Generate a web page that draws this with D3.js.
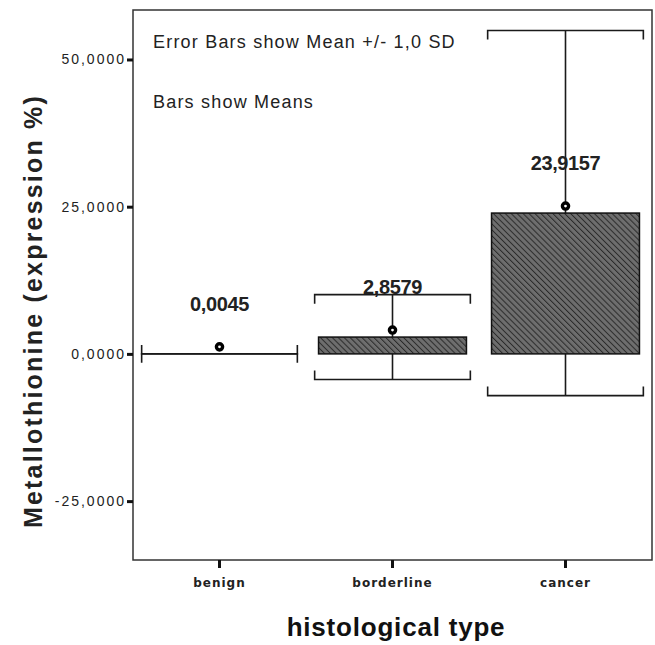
<!DOCTYPE html>
<html>
<head>
<meta charset="utf-8">
<script src="https://cdn.jsdelivr.net/npm/d3@7"></script>
<style>
  html, body { margin: 0; padding: 0; background: #fff; }
  svg { display: block; font-family: Arial, "Liberation Sans", sans-serif; }
</style>
</head>
<body>
<svg id="chart" width="655" height="645"></svg>
<script>
// ---- data ----
const categories = ["benign", "borderline", "cancer"];
const means = [0.0045, 2.8579, 23.9157];
const sds = [0.03, 7.2, 31.0];
const meanLabels = ["0,0045", "2,8579", "23,9157"];
const yTicks = [-25, 0, 25, 50];
const yDomain = [-35.0, 58.4];
const notes = ["Error Bars show Mean +/- 1,0 SD", "Bars show Means"];

// ---- layout ----
const W = 655, H = 645;
const m = { left: 133, right: 3, top: 10, bottom: 85 };
const svg = d3.select("#chart");

const x = d3.scaleBand().domain(categories)
  .range([m.left, W - m.right]).paddingInner(0).paddingOuter(0);
const y = d3.scaleLinear().domain(yDomain).range([H - m.bottom, m.top]);

const loc = d3.formatLocale({ decimal: ",", thousands: ".", grouping: [3], currency: ["", ""], minus: "-" });
const fmt = loc.format(".4f");

// hatch pattern
const defs = svg.append("defs");
const pat = defs.append("pattern").attr("id", "hatch")
  .attr("patternUnits", "userSpaceOnUse").attr("width", 4.2).attr("height", 4.2)
  .attr("patternTransform", "rotate(-45)");
pat.append("rect").attr("width", 4.2).attr("height", 4.2).attr("fill", "#6e6e6e");
pat.append("line").attr("x1", 0).attr("y1", 0).attr("x2", 0).attr("y2", 4.2)
  .attr("stroke", "#2a2a2a").attr("stroke-width", 2);

const barW = x.bandwidth() * 0.855;
const capW = x.bandwidth() * 0.9;
const capTick = 9;

const data = categories.map((c, i) => ({ c, mean: means[i], sd: sds[i], label: meanLabels[i] }));

// error bars
const eb = svg.append("g").attr("stroke", "#1a1a1a").attr("stroke-width", 1.6).attr("fill", "none");
data.forEach(d => {
  const cx = x(d.c) + x.bandwidth() / 2;
  const yHi = y(d.mean + d.sd), yLo = y(d.mean - d.sd);
  eb.append("line").attr("x1", cx).attr("x2", cx).attr("y1", yHi).attr("y2", yLo);
  eb.append("path").attr("d",
    `M${cx - capW / 2},${yHi + capTick}V${yHi}H${cx + capW / 2}V${yHi + capTick}`);
  eb.append("path").attr("d",
    `M${cx - capW / 2},${yLo - capTick}V${yLo}H${cx + capW / 2}V${yLo - capTick}`);
});

// bars
svg.append("g").selectAll("rect").data(data).join("rect")
  .attr("x", d => x(d.c) + (x.bandwidth() - barW) / 2)
  .attr("width", barW)
  .attr("y", d => Math.min(y(d.mean), y(0)))
  .attr("height", d => Math.abs(y(0) - y(d.mean)))
  .attr("fill", "url(#hatch)")
  .attr("stroke", d => Math.abs(y(0) - y(d.mean)) > 1 ? "#111" : "none")
  .attr("stroke-width", 1.5);

// mean markers
svg.append("g").selectAll("circle").data(data).join("circle")
  .attr("cx", d => x(d.c) + x.bandwidth() / 2)
  .attr("cy", d => y(d.mean) - 7)
  .attr("r", 3.1)
  .attr("fill", "#fff").attr("stroke", "#000").attr("stroke-width", 3.4);

// value labels
svg.append("g").selectAll("text").data(data).join("text")
  .attr("x", d => x(d.c) + x.bandwidth() / 2)
  .attr("y", d => y(d.mean) - 43)
  .attr("text-anchor", "middle")
  .attr("font-size", 20).attr("font-weight", "bold").attr("fill", "#222")
  .attr("letter-spacing", "-0.4")
  .text(d => d.label);

// frame
svg.append("rect").attr("x", m.left).attr("y", m.top)
  .attr("width", W - m.right - m.left).attr("height", H - m.bottom - m.top)
  .attr("fill", "none").attr("stroke", "#333").attr("stroke-width", 1.5);

// y axis
const yAxis = d3.axisLeft(y).tickValues(yTicks).tickFormat(fmt).tickSize(6).tickPadding(1);
const gy = svg.append("g").attr("transform", `translate(${m.left},0)`).call(yAxis);
gy.select(".domain").remove();
gy.selectAll(".tick line").attr("stroke", "#111").attr("stroke-width", 3);
gy.selectAll(".tick text").attr("font-size", 14).attr("fill", "#222")
  .attr("font-family", "Arial, 'Liberation Sans', sans-serif").attr("letter-spacing", "2");

// x axis
const xAxis = d3.axisBottom(x).tickSize(8).tickPadding(10);
const gx = svg.append("g").attr("transform", `translate(0,${H - m.bottom})`).call(xAxis);
gx.select(".domain").remove();
gx.selectAll(".tick line").attr("stroke", "#111").attr("stroke-width", 3);
gx.selectAll(".tick text").attr("font-size", 12).attr("fill", "#222")
  .attr("font-family", "'DejaVu Sans', sans-serif").attr("letter-spacing", "1")
  .attr("font-weight", "bold");

// notes
svg.append("g").selectAll("text").data(notes).join("text")
  .attr("x", 153).attr("y", (d, i) => 48 + i * 60)
  .attr("font-size", 18).attr("fill", "#222").attr("letter-spacing", "1.2")
  .text(d => d);

// axis titles
svg.append("text")
  .attr("x", 396).attr("y", 636)
  .attr("text-anchor", "middle").attr("font-size", 26).attr("font-weight", "bold").attr("fill", "#111")
  .attr("letter-spacing", "0.8")
  .text("histological type");

svg.append("text")
  .attr("transform", `translate(42,311) rotate(-90)`)
  .attr("text-anchor", "middle").attr("font-size", 25).attr("font-weight", "bold").attr("fill", "#222")
  .attr("letter-spacing", "2.2")
  .text("Metallothionine (expression %)");
</script>
</body>
</html>
